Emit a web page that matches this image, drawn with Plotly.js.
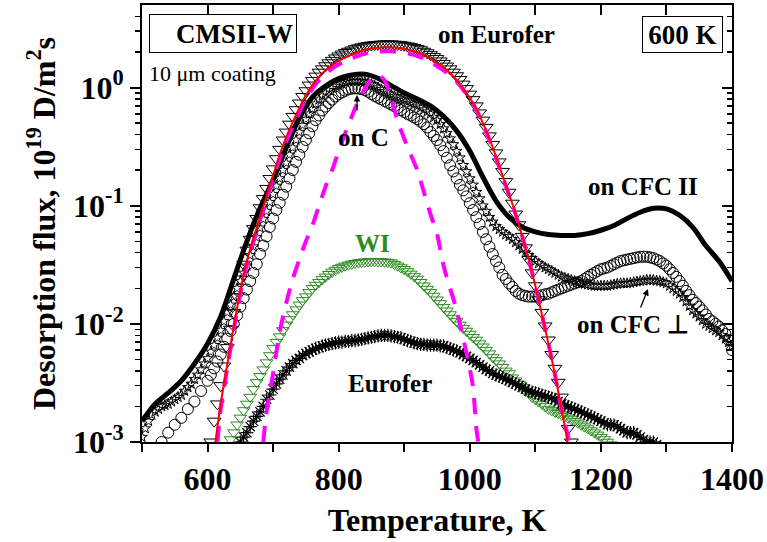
<!DOCTYPE html>
<html>
<head>
<meta charset="utf-8">
<script src="https://cdn.plot.ly/plotly-3.0.1.min.js"></script>
<style>html,body{margin:0;padding:0;background:#fff;}#chart{width:767px;height:542px;}</style>
</head>
<body>
<div id="chart"></div>
<script>
// ---------- data ----------
const cfc2T = [500,520,540,560,580,600,620,640,660,680,700,720,740,760,780,800,820,840,860,880,900,920,940,960,980,1000,1020,1040,1060,1080,1100,1120,1140,1160,1180,1200,1220,1240,1260,1280,1300,1320,1340,1360,1380,1400];
const cfc2V = [0.0015,0.0021,0.0026,0.0033,0.0046,0.0068,0.0115,0.024,0.05,0.095,0.165,0.31,0.55,0.83,1.03,1.19,1.28,1.3,1.2,1.04,0.9,0.8,0.7,0.57,0.43,0.29,0.175,0.11,0.08,0.066,0.06,0.057,0.056,0.056,0.058,0.062,0.068,0.078,0.088,0.095,0.094,0.083,0.066,0.046,0.034,0.023];

const onCT = [530,540,550,560,570,580,590,600,605,610,615,620,625,630,635,640,645,650,655,660,665,670,675,680,685,690,695,700,705,710,715,720,725,730,735,740,745,750,755,760,765,770,775,780,785,790,795,800,805,810,815,820,825,830,835,840,845,850,855,860,865,870,875,880,885,890,895,900,905,910,915,920,925,930,935,940,945,950,955,960,965,970,975,980,985,990,995,1000,1005,1010,1015,1020,1025,1030,1035,1040,1045,1050,1055,1060,1065,1070,1075,1080,1085,1090,1095,1100,1105,1110,1115,1120,1125,1130,1135,1140,1145,1150,1155,1160,1165,1170,1175,1180,1185,1190,1195,1200,1205,1210,1215,1220,1225,1230,1235,1240,1245,1250,1255,1260,1265,1270,1275,1280,1285,1290,1295,1300,1305,1310,1315,1320,1325,1330,1335,1340,1345,1350,1355,1360,1365,1370,1375,1380,1385,1390,1395,1400];
const onCV = [0.001,0.0012,0.0014,0.0016,0.0019,0.0022,0.0027,0.0033,0.0037,0.0042,0.0048,0.0055,0.0064,0.0075,0.0087,0.01,0.0118,0.014,0.0165,0.0195,0.023,0.027,0.032,0.039,0.046,0.055,0.066,0.078,0.092,0.106,0.124,0.145,0.17,0.2,0.235,0.27,0.315,0.36,0.41,0.47,0.53,0.58,0.64,0.69,0.74,0.79,0.84,0.88,0.91,0.94,0.965,0.98,0.985,0.98,0.97,0.95,0.92,0.88,0.85,0.82,0.795,0.77,0.745,0.72,0.695,0.67,0.645,0.62,0.6,0.58,0.56,0.54,0.515,0.49,0.46,0.42,0.39,0.36,0.325,0.29,0.255,0.22,0.195,0.17,0.15,0.135,0.12,0.105,0.092,0.08,0.07,0.06,0.052,0.045,0.039,0.034,0.03,0.026,0.024,0.022,0.0205,0.019,0.018,0.0175,0.0172,0.017,0.017,0.017,0.0172,0.0175,0.0178,0.018,0.0185,0.019,0.0195,0.02,0.0205,0.021,0.0215,0.022,0.0225,0.023,0.024,0.025,0.026,0.027,0.028,0.029,0.0295,0.03,0.031,0.032,0.033,0.034,0.0345,0.035,0.0355,0.036,0.0365,0.037,0.037,0.037,0.0365,0.036,0.035,0.034,0.0325,0.031,0.029,0.027,0.025,0.023,0.021,0.019,0.0175,0.016,0.015,0.014,0.013,0.012,0.011,0.0105,0.01,0.0095,0.0088,0.0082,0.0073,0.006];

const perpT = [500,505,510,515,520,525,530,535,540,545,550,555,560,565,570,575,580,585,590,595,600,605,610,615,620,625,630,635,640,645,650,655,660,665,670,675,680,685,690,695,700,705,710,715,720,725,730,735,740,745,750,755,760,765,770,775,780,785,790,795,800,805,810,815,820,825,830,835,840,845,850,855,860,865,870,875,880,885,890,895,900,905,910,915,920,925,930,935,940,945,950,955,960,965,970,975,980,985,990,995,1000,1005,1010,1015,1020,1025,1030,1035,1040,1045,1050,1055,1060,1065,1070,1075,1080,1085,1090,1095,1100,1105,1110,1115,1120,1125,1130,1135,1140,1145,1150,1155,1160,1165,1170,1175,1180,1185,1190,1195,1200,1205,1210,1215,1220,1225,1230,1235,1240,1245,1250,1255,1260,1265,1270,1275,1280,1285,1290,1295,1300,1305,1310,1315,1320,1325,1330,1335,1340,1345,1350,1355,1360,1365,1370,1375,1380,1385,1390,1395,1400];
const perpV = [0.0011,0.0013,0.0015,0.0017,0.0018,0.0019,0.002,0.00205,0.0021,0.0022,0.0023,0.0024,0.0025,0.0027,0.0029,0.0031,0.0034,0.0037,0.0041,0.0046,0.0051,0.0058,0.0066,0.0076,0.0088,0.0105,0.0125,0.0145,0.017,0.02,0.023,0.027,0.031,0.038,0.045,0.054,0.065,0.077,0.09,0.107,0.125,0.147,0.17,0.2,0.23,0.27,0.31,0.36,0.42,0.48,0.54,0.6,0.66,0.73,0.79,0.85,0.9,0.95,0.99,1.03,1.06,1.09,1.11,1.13,1.14,1.145,1.14,1.13,1.12,1.1,1.07,1.035,1.0,0.965,0.93,0.9,0.87,0.845,0.82,0.8,0.78,0.76,0.74,0.72,0.7,0.675,0.65,0.625,0.6,0.56,0.53,0.49,0.45,0.41,0.37,0.33,0.29,0.255,0.22,0.195,0.17,0.15,0.13,0.115,0.1,0.09,0.08,0.073,0.067,0.063,0.06,0.057,0.055,0.052,0.049,0.046,0.043,0.04,0.038,0.036,0.034,0.0325,0.031,0.03,0.029,0.028,0.027,0.026,0.025,0.0245,0.024,0.0235,0.023,0.0225,0.022,0.0218,0.0215,0.0212,0.021,0.021,0.021,0.021,0.021,0.0212,0.0215,0.0218,0.022,0.022,0.022,0.0222,0.0225,0.0228,0.023,0.0232,0.0235,0.0235,0.0235,0.0232,0.023,0.0225,0.022,0.021,0.02,0.019,0.018,0.0168,0.0155,0.0142,0.013,0.0122,0.0115,0.0107,0.01,0.0096,0.0092,0.0088,0.0085,0.008,0.0075,0.007,0.0065];

const onEuT = [605,610,615,620,625,630,635,640,645,650,655,660,665,670,675,680,685,690,695,700,705,710,715,720,725,730,735,740,745,750,755,760,765,770,775,780,785,790,795,800,805,810,815,820,825,830,835,840,845,850,855,860,865,870,875,880,885,890,895,900,905,910,915,920,925,930,935,940,945,950,955,960,965,970,975,980,985,990,995,1000,1005,1010,1015,1020,1025,1030,1035,1040,1045,1050,1055,1060,1065,1070,1075,1080,1085,1090,1095,1100,1105,1110,1115,1120,1125,1130,1135,1140,1145,1150,1155];
const onEuV = [0.001,0.0015,0.0021,0.003,0.0044,0.0063,0.009,0.0125,0.017,0.024,0.032,0.042,0.052,0.064,0.078,0.096,0.115,0.14,0.17,0.205,0.25,0.3,0.36,0.42,0.49,0.57,0.65,0.74,0.84,0.94,1.05,1.15,1.25,1.35,1.44,1.53,1.62,1.7,1.78,1.85,1.92,1.98,2.03,2.08,2.13,2.17,2.21,2.24,2.27,2.29,2.31,2.32,2.33,2.34,2.34,2.34,2.33,2.32,2.3,2.28,2.25,2.22,2.18,2.14,2.09,2.03,1.97,1.9,1.83,1.76,1.68,1.6,1.52,1.44,1.35,1.26,1.17,1.07,0.98,0.88,0.79,0.7,0.61,0.53,0.46,0.39,0.33,0.28,0.235,0.195,0.16,0.13,0.105,0.085,0.069,0.055,0.044,0.035,0.027,0.021,0.016,0.0125,0.0096,0.0073,0.0055,0.0042,0.0032,0.0024,0.0018,0.0013,0.001];

const wiT = [630,635,640,645,650,655,660,665,670,675,680,685,690,695,700,705,710,715,720,725,730,735,740,745,750,755,760,765,770,775,780,785,790,795,800,805,810,815,820,825,830,835,840,845,850,855,860,865,870,875,880,885,890,895,900,905,910,915,920,925,930,935,940,945,950,955,960,965,970,975,980,985,990,995,1000,1005,1010,1015,1020,1025,1030,1035,1040,1045,1050,1055,1060,1065,1070,1075,1080,1085,1090,1095,1100,1105,1110,1115,1120,1125,1130,1135,1140,1145,1150,1155,1160,1165,1170,1175,1180,1185,1190,1195,1200,1205,1210,1215,1220];
const wiV = [0.0009,0.00105,0.0012,0.0014,0.0016,0.00185,0.0021,0.0024,0.0028,0.0032,0.0036,0.0041,0.0047,0.0054,0.0062,0.007,0.0078,0.0088,0.0098,0.0109,0.012,0.0132,0.0145,0.0158,0.017,0.0185,0.02,0.0213,0.0225,0.0238,0.025,0.0263,0.0275,0.0285,0.0295,0.0303,0.031,0.0316,0.0322,0.0326,0.033,0.0333,0.0335,0.0337,0.0338,0.0338,0.0338,0.0337,0.0335,0.0333,0.033,0.032,0.031,0.03,0.029,0.0278,0.0265,0.0252,0.024,0.0225,0.021,0.0197,0.0185,0.0172,0.016,0.0149,0.0138,0.0129,0.012,0.0112,0.0105,0.0098,0.0092,0.0087,0.0082,0.0077,0.0073,0.0068,0.0064,0.006,0.0056,0.0052,0.0049,0.0046,0.0043,0.004,0.0038,0.0035,0.0033,0.0031,0.0029,0.0027,0.0026,0.0024,0.0023,0.0022,0.0021,0.002,0.0019,0.00185,0.0018,0.00175,0.0017,0.00165,0.0016,0.00155,0.0015,0.00145,0.0014,0.00135,0.0013,0.00125,0.0012,0.00115,0.0011,0.00105,0.001,0.00095,0.0009];

const euroT = [640,645,650,655,660,665,670,675,680,685,690,695,700,705,710,715,720,725,730,735,740,745,750,755,760,765,770,775,780,785,790,795,800,805,810,815,820,825,830,835,840,845,850,855,860,865,870,875,880,885,890,895,900,905,910,915,920,925,930,935,940,945,950,955,960,965,970,975,980,985,990,995,1000,1005,1010,1015,1020,1025,1030,1035,1040,1045,1050,1055,1060,1065,1070,1075,1080,1085,1090,1095,1100,1105,1110,1115,1120,1125,1130,1135,1140,1145,1150,1155,1160,1165,1170,1175,1180,1185,1190,1195,1200,1205,1210,1215,1220,1225,1230,1235,1240,1245,1250,1255,1260,1265,1270,1275,1280,1285,1290];
const euroV = [0.0008,0.0009,0.001,0.0011,0.0012,0.00135,0.0015,0.00165,0.0018,0.002,0.0023,0.0025,0.0028,0.0031,0.0034,0.0037,0.004,0.0043,0.0046,0.0049,0.0051,0.0054,0.0056,0.0058,0.006,0.0062,0.0063,0.0065,0.0066,0.0067,0.0068,0.0069,0.007,0.007,0.0071,0.0071,0.0072,0.0072,0.0073,0.0074,0.0075,0.0076,0.0077,0.0078,0.0079,0.008,0.008,0.008,0.0079,0.0078,0.0077,0.0076,0.0074,0.0072,0.0071,0.0069,0.0068,0.0067,0.0067,0.0066,0.0066,0.0066,0.0066,0.0065,0.0065,0.0063,0.0062,0.006,0.0059,0.0057,0.0055,0.0053,0.0051,0.0049,0.0047,0.0045,0.0043,0.0041,0.004,0.0038,0.0037,0.0036,0.0035,0.0034,0.0033,0.0032,0.0031,0.003,0.0029,0.0028,0.0027,0.00265,0.0026,0.00255,0.0025,0.00245,0.0024,0.00235,0.0023,0.0022,0.0021,0.00205,0.002,0.00195,0.0019,0.00185,0.0018,0.00175,0.0017,0.00165,0.0016,0.00155,0.0015,0.00145,0.0014,0.0014,0.0014,0.00135,0.0013,0.00125,0.0012,0.0012,0.0012,0.00115,0.0011,0.00105,0.001,0.001,0.001,0.00095,0.0009];

const fitT = [612,620,630,640,650,660,670,680,690,700,710,720,730,740,750,760,770,780,790,800,810,820,830,840,850,860,870,880,890,900,910,920,930,940,950,960,970,980,990,1000,1010,1020,1030,1040,1050,1060,1070,1080,1090,1100,1110,1120,1130,1140,1150];
const fitV = [0.001,0.0021,0.0045,0.0095,0.019,0.034,0.053,0.08,0.12,0.18,0.27,0.38,0.51,0.67,0.86,1.05,1.23,1.4,1.55,1.68,1.8,1.9,2.0,2.08,2.14,2.17,2.19,2.19,2.17,2.13,2.07,1.99,1.88,1.76,1.62,1.48,1.33,1.16,0.98,0.82,0.66,0.5,0.37,0.26,0.18,0.125,0.085,0.055,0.035,0.021,0.012,0.0068,0.0037,0.0019,0.00095];

const wideT = [615,620,630,640,650,660,670,680,690,700,710,720,730,740,750,760,770,780,790,800,810,820,830,840,850,860,870,880,890,900,910,920,930,940,950,960,970,980,990,1000,1010,1020,1030,1040,1050,1060,1070,1080,1090,1100,1110,1120,1130,1140,1152];
const wideV = [0.001,0.0019,0.0042,0.009,0.018,0.032,0.05,0.076,0.113,0.17,0.25,0.35,0.47,0.62,0.8,0.98,1.15,1.3,1.45,1.57,1.68,1.77,1.86,1.93,1.98,2.01,2.03,2.03,2.01,1.97,1.92,1.85,1.76,1.65,1.52,1.4,1.27,1.12,0.96,0.8,0.65,0.49,0.36,0.255,0.177,0.123,0.084,0.055,0.035,0.021,0.012,0.0068,0.0037,0.0019,0.001];

const narrowT = [685,690,700,710,720,730,740,750,760,770,780,790,800,810,820,830,840,850,860,870,880,890,900,910,920,930,940,950,960,970,980,990,1000,1005,1010,1013];
const narrowV = [0.001,0.0018,0.0038,0.0085,0.015,0.024,0.035,0.05,0.068,0.1,0.145,0.2,0.29,0.41,0.57,0.77,0.98,1.17,1.27,1.15,0.82,0.52,0.37,0.27,0.2,0.13,0.085,0.058,0.031,0.02,0.013,0.0075,0.0042,0.0029,0.0013,0.001];

const xTickVals = [500,600,700,800,900,1000,1100,1200,1300,1400];
const xTickText = ['', '600', '', '800', '', '1000', '', '1200', '', '1400'];
const yTickVals = [0.001, 0.01, 0.1, 1];
const yTickText = ['10<sup>-3</sup>', '10<sup>-2</sup>', '10<sup>-1</sup>', '10<sup>0</sup>'];
const yMinorVals = [0.002,0.003,0.004,0.005,0.006,0.007,0.008,0.009,0.02,0.03,0.04,0.05,0.06,0.07,0.08,0.09,0.2,0.3,0.4,0.5,0.6,0.7,0.8,0.9,2,3,4];

// ---------- chart ----------
const FONT = 'Liberation Serif, Times New Roman, serif';
const green = '#2e8b22';

function markers(x, y, symbol, size, color, lw) {
  return {x: x, y: y, type: 'scatter', mode: 'markers', showlegend: false, hoverinfo: 'skip',
    marker: {symbol: symbol, size: size, color: color, line: {color: color, width: lw || 1}}};
}

const traces = [
  markers(onEuT, onEuV, 'triangle-down-open', 12, 'black'),
  markers(onCT, onCV, 'circle-open', 11, 'black'),
  markers(perpT, perpV, 'star-open', 8, 'black'),
  {x: cfc2T, y: cfc2V, type: 'scatter', mode: 'lines', showlegend: false, hoverinfo: 'skip',
   line: {color: 'black', width: 5, shape: 'spline', smoothing: 0.8}},
  markers(wiT, wiV, 'triangle-down-open', 11, green),
  markers(euroT, euroV, 'asterisk-open', 11, 'black', 1.2),
  {x: wideT, y: wideV, type: 'scatter', mode: 'lines', showlegend: false, hoverinfo: 'skip',
   line: {color: '#ff00ff', width: 4, dash: '16px,12px', shape: 'spline', smoothing: 0.8}},
  {x: narrowT, y: narrowV, type: 'scatter', mode: 'lines', showlegend: false, hoverinfo: 'skip',
   line: {color: '#ff00ff', width: 4, dash: '16px,12px', shape: 'spline', smoothing: 0.8}},
  {x: fitT, y: fitV, type: 'scatter', mode: 'lines', showlegend: false, hoverinfo: 'skip',
   line: {color: '#ff0000', width: 2, shape: 'spline', smoothing: 0.8}},
  {x: [null], y: [null], xaxis: 'x2', yaxis: 'y2', type: 'scatter', mode: 'markers', showlegend: false, hoverinfo: 'skip'}
];

const X0 = 142, X1 = 732, Y0 = 5, Y1 = 442;
function px(p) { return (p - X0) / (X1 - X0); }
function py(p) { return (Y1 - p) / (Y1 - Y0); }

const lblFont = {family: FONT, size: 25, color: 'black', weight: 'bold'};
function label(text, cx, cy, extra) {
  return Object.assign({text: text, xref: 'paper', yref: 'paper', x: px(cx), y: py(cy),
    xanchor: 'center', yanchor: 'middle', showarrow: false, font: lblFont}, extra || {});
}
function arrow(hx, hy, ax, ay) {
  return {text: '', xref: 'paper', yref: 'paper', x: px(hx), y: py(hy), ax: ax, ay: ay,
    showarrow: true, arrowhead: 2, arrowsize: 1, arrowwidth: 1.3, arrowcolor: 'black'};
}

const axisCommon = {showline: true, linecolor: 'black', linewidth: 2, showgrid: false, zeroline: false,
  tickcolor: 'black', tickwidth: 2, mirror: false};

const layout = {
  width: 767, height: 542,
  margin: {l: X0, r: 767 - X1, t: Y0, b: 542 - Y1},
  paper_bgcolor: 'white', plot_bgcolor: 'white',
  font: {family: FONT, color: 'black'},
  showlegend: false,
  xaxis: Object.assign({}, axisCommon, {
    range: [500, 1400], ticks: 'outside', ticklen: 8,
    tickmode: 'array', tickvals: xTickVals, ticktext: xTickText,
    tickfont: {family: FONT, size: 32, weight: 'bold'},
    title: {text: 'Temperature, K', font: {family: FONT, size: 32, weight: 'bold'}, standoff: 12}
  }),
  yaxis: Object.assign({}, axisCommon, {
    type: 'log', range: [-3, Math.log10(5)], ticks: 'outside', ticklen: 10,
    tickmode: 'array', tickvals: yTickVals, ticktext: yTickText,
    tickfont: {family: FONT, size: 32, weight: 'bold'},
    minor: {ticks: 'outside', ticklen: 5, tickwidth: 1.5, tickcolor: 'black', tickmode: 'array', tickvals: yMinorVals, showgrid: false},
    title: {text: 'Desorption flux, 10<sup>19</sup> D/m<sup>2</sup>s', font: {family: FONT, size: 32, weight: 'bold'}, standoff: 8}
  }),
  xaxis2: Object.assign({}, axisCommon, {
    overlaying: 'x', side: 'top', anchor: 'y', range: [500, 1400], ticks: 'inside', ticklen: 10,
    tickmode: 'array', tickvals: xTickVals, showticklabels: false
  }),
  yaxis2: Object.assign({}, axisCommon, {
    overlaying: 'y', side: 'right', anchor: 'x', type: 'log', range: [-3, Math.log10(5)],
    ticks: 'inside', ticklen: 10, tickmode: 'array', tickvals: yTickVals, showticklabels: false,
    minor: {ticks: 'inside', ticklen: 5, tickwidth: 1.5, tickcolor: 'black', tickmode: 'array', tickvals: yMinorVals, showgrid: false}
  }),
  annotations: [
    label('CMSII-W', 223, 33.5, {width: 140, height: 31, borderpad: 3, bordercolor: 'black', borderwidth: 1, align: 'right', font: {family: FONT, size: 27, weight: 'bold', color: 'black'}}),
    label('600 K', 682.5, 34.5, {width: 73, height: 29, borderpad: 3, bordercolor: 'black', borderwidth: 1, font: {family: FONT, size: 27, weight: 'bold', color: 'black'}}),
    label('10 μm coating', 147, 73, {xanchor: 'left', font: {family: FONT, size: 22, color: 'black'}}),
    label('on Eurofer', 497, 34),
    label('on C', 363, 137),
    label('on CFC II', 643, 186),
    label('on CFC ⊥', 633, 324),
    label('WI', 372, 243, {font: {family: FONT, size: 25, weight: 'bold', color: green}}),
    label('Eurofer', 390, 383),
    arrow(357, 95, 0, 17),
    arrow(648, 289, -8, 20)
  ]
};

Plotly.newPlot('chart', traces, layout, {displayModeBar: false, staticPlot: true});
</script>
</body>
</html>
